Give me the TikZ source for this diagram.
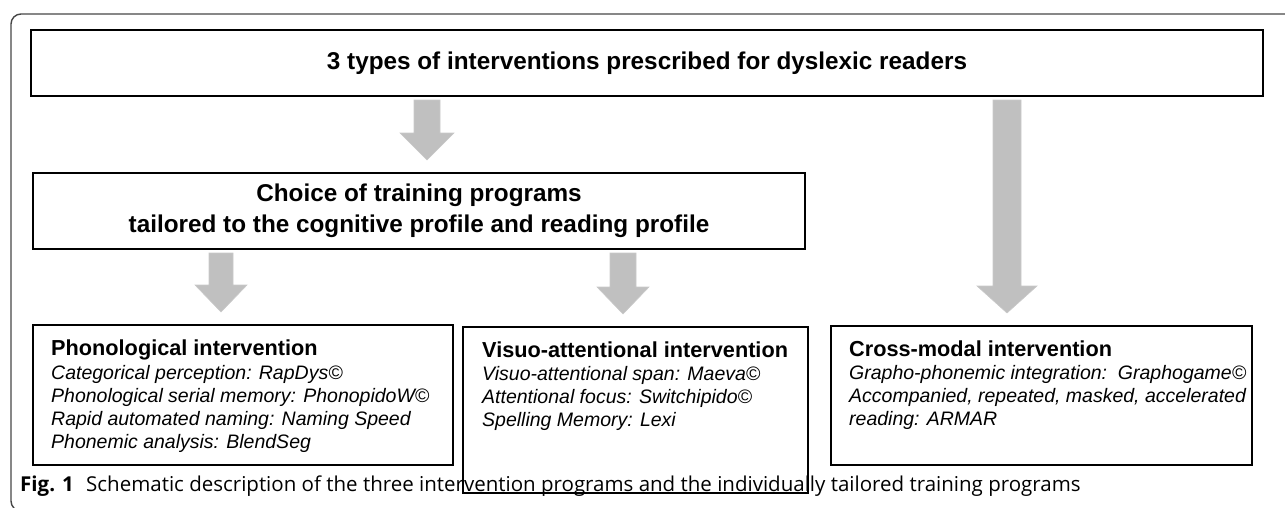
\documentclass[tikz,border=0pt]{standalone}
\usepackage{fontspec}
\setmainfont{Liberation Sans}
\newfontfamily\capfont{Open Sans}
\usetikzlibrary{calc}
\definecolor{arrowgray}{RGB}{192,192,192}
\definecolor{framecol}{RGB}{70,70,70}
\tikzset{
  box/.style={draw=black, line width=2pt, inner sep=0pt},
  garrow/.style={fill=arrowgray, draw=arrowgray!85!white, line width=0.6pt},
  hdr/.style={anchor=base west, inner sep=0pt, font=\fontsize{21.7}{26}\selectfont\bfseries},
  itl/.style={anchor=base west, inner sep=0pt, font=\fontsize{19.5}{23}\selectfont\itshape},
}
\newcommand{\blockarrow}[5]{%
  \filldraw[garrow] let \p1=(#2.south), \p2=(#3.north) in
    (#1pt-#4pt, \y1-3pt) -- (#1pt+#4pt, \y1-3pt) -- (#1pt+#4pt, \y2+39pt)
    -- (#1pt+#5pt, \y2+39pt) -- (#1pt, \y2+12pt) -- (#1pt-#5pt, \y2+39pt)
    -- (#1pt-#4pt, \y2+39pt) -- cycle;}
\begin{document}
\begin{tikzpicture}[x=1pt, y=-1pt]
\useasboundingbox (0,0) rectangle (1285,507);
% outer frame
\draw[framecol, line width=1.4pt, rounded corners=10pt] (1300,14) -- (11,14) -- (11,511) -- (60,511);
% boxes
\node[box, minimum width=1232pt, minimum height=66pt,
      font=\fontsize{24.3}{29}\selectfont\bfseries] (title) at (647,63)
      {3 types of interventions prescribed for dyslexic readers};
\node[box, minimum width=772pt, minimum height=76pt, align=center,
      font=\fontsize{24.3}{31}\selectfont\bfseries] (choice) at (419,211)
      {Choice of training programs\\tailored to the cognitive profile and reading profile};
\node[box, minimum width=420pt, minimum height=140pt] (phon) at (243,395) {};
\node[box, minimum width=345pt, minimum height=166pt] (visuo) at (635.5,410) {};
\node[box, minimum width=421pt, minimum height=139pt] (cross) at (1041.5,395.5) {};
% arrows
\blockarrow{427}{title}{choice}{13}{27}
\blockarrow{221}{choice}{phon}{12}{26}
\blockarrow{623}{choice}{visuo}{13}{26}
\blockarrow{1007}{title}{cross}{14}{30}
% phonological text
\node[hdr] (ph0) at (51,355) {Phonological intervention};
\node[itl] (ph1) at (51,379) {Categorical perception: RapDys©};
\node[itl] (ph2) at (51,402) {Phonological serial memory: PhonopidoW©};
\node[itl] (ph3) at (51,425) {Rapid automated naming: Naming Speed};
\node[itl] (ph4) at (51,448) {Phonemic analysis: BlendSeg};
% visuo text
\node[hdr] (vi0) at (482,357) {Visuo-attentional intervention};
\node[itl] (vi1) at (482,380) {Visuo-attentional span: Maeva©};
\node[itl] (vi2) at (482,403) {Attentional focus: Switchipido©};
\node[itl] (vi3) at (482,426) {Spelling Memory: Lexi};
% cross-modal text
\node[hdr] (cr0) at (849,356) {Cross-modal intervention};
\node[itl] (cr1) at (849,379) {Grapho-phonemic integration:\ \ Graphogame©};
\node[itl] (cr2) at (849,402) {Accompanied, repeated, masked, accelerated};
\node[itl] (cr3) at (849,425) {reading: ARMAR};
% caption
\node[anchor=base west, inner sep=0pt, font=\capfont\fontsize{20.5}{24}\selectfont] (cap) at (20,491)
  {\textbf{Fig. 1}\hspace{0.6em}Schematic description of the three intervention programs and the individually tailored training programs};
\end{tikzpicture}
\end{document}
